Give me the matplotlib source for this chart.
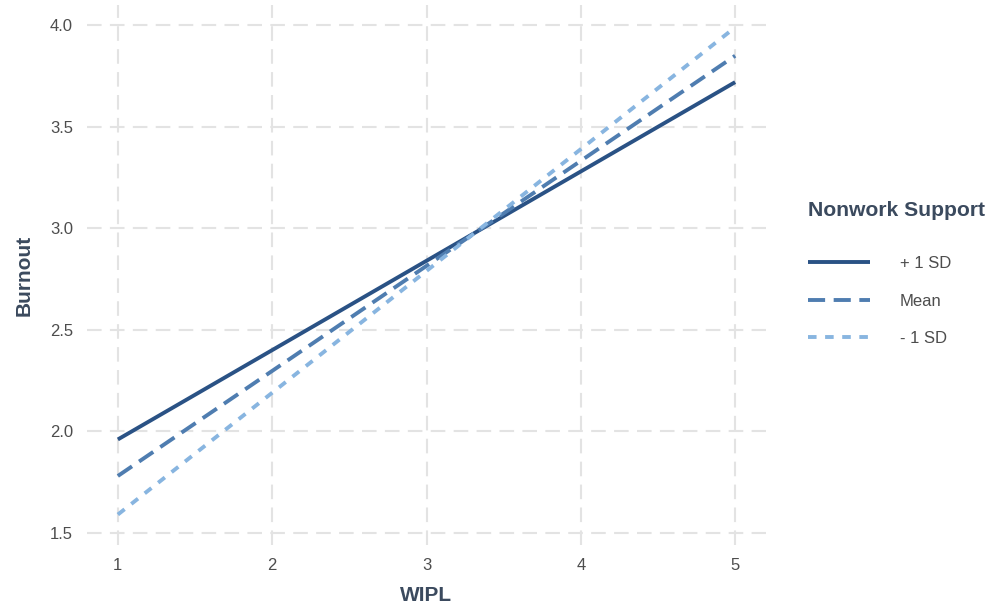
import numpy as np
import matplotlib.pyplot as plt

plt.rcParams['font.family'] = ['Liberation Sans', 'DejaVu Sans']

# data
wipl = [1, 5]
labels = ['+ 1 SD', 'Mean', '- 1 SD']
burnout_hi = [1.96, 3.72]
burnout_mean = [1.78, 3.85]
burnout_lo = [1.59, 3.99]

colors = ['#2A5285', '#4F7DB0', '#88B5E0']
dashes = [None, (4.4, 2.2), (2.2, 2.2)]

fig = plt.figure(figsize=(9.92, 6.15), dpi=100)
ax = fig.add_axes([87 / 992, 1 - 545 / 615, (766 - 87) / 992, (545 - 5) / 615])

for ys, lab, c, d in zip([burnout_hi, burnout_mean, burnout_lo], labels, colors, dashes):
    line, = ax.plot(wipl, ys, color=c, lw=2.8, label=lab, solid_capstyle='butt', dash_capstyle='butt')
    if d is not None:
        line.set_dashes(d)

ax.set_xlim(0.8, 5.2)
ax.set_ylim(1.44, 4.10)
ax.set_xticks([1, 2, 3, 4, 5])
ax.set_yticks([1.5, 2.0, 2.5, 3.0, 3.5, 4.0])
ax.set_yticklabels(['1.5', '2.0', '2.5', '3.0', '3.5', '4.0'])

ax.grid(True, color='#E3E3E3', lw=1.5, linestyle=(0, (7, 4)))
ax.set_axisbelow(True)
for s in ax.spines.values():
    s.set_visible(False)
ax.tick_params(length=0, labelsize=12, labelcolor='#4D4D4D')
ax.tick_params(axis='x', pad=9)
ax.tick_params(axis='y', pad=10)

ax.set_xlabel('WIPL', fontsize=15, fontweight='bold', color='#3B4A5E', labelpad=10)
ax.set_ylabel('Burnout', fontsize=15, fontweight='bold', color='#3B4A5E', labelpad=12)

leg = ax.legend(loc='upper left', bbox_to_anchor=(1.04, 0.665), frameon=False,
                title='Nonwork Support', fontsize=12, handlelength=3.7,
                handletextpad=1.8, labelspacing=1.35, alignment='left')
leg.get_title().set_fontsize(15.2)
leg.get_title().set_fontweight('bold')
leg.get_title().set_color('#3B4A5E')
for t in leg.get_texts():
    t.set_color('#4D4D4D')
leg._legend_box.sep = 26

fig.savefig('out.png', dpi=100)
